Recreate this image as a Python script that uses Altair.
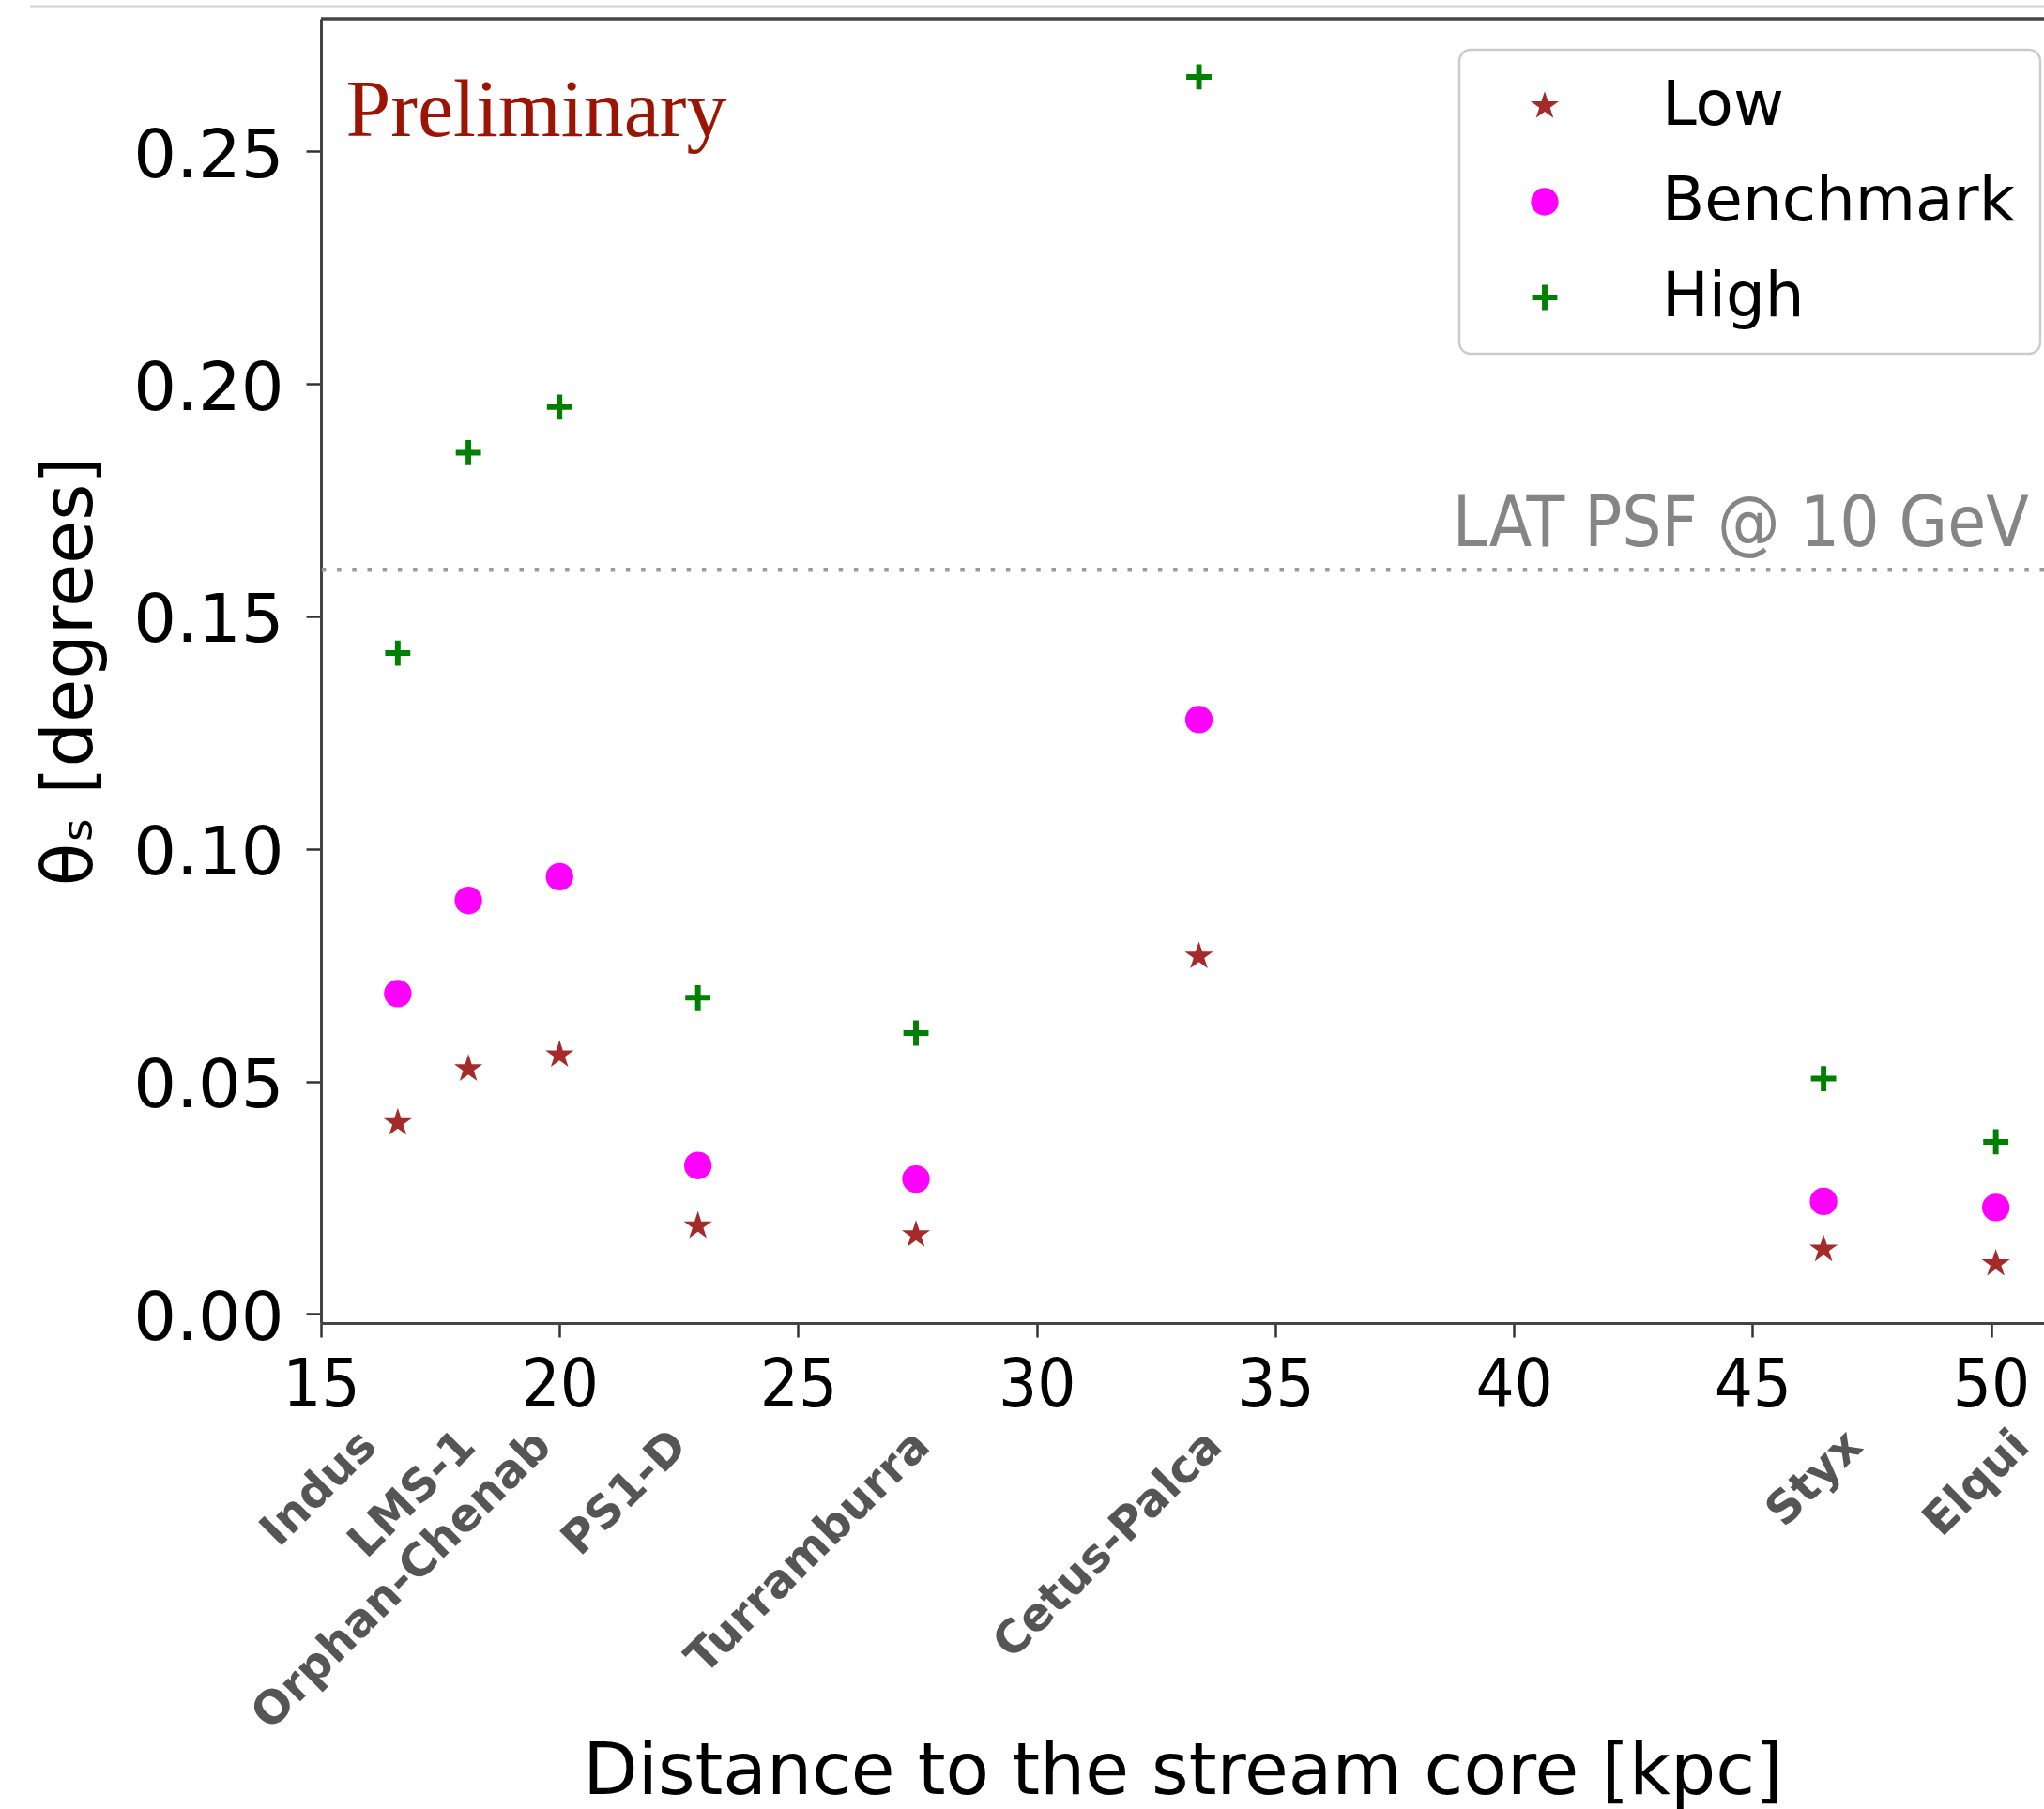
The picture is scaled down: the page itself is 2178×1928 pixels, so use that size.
import altair as alt
import pandas as pd

# ---------------- data ----------------
streams = ["Indus", "LMS-1", "Orphan-Chenab", "PS1-D", "Turramburra",
           "Cetus-Palca", "Styx", "Elqui"]
distance_kpc = [16.61, 18.09, 20.00, 22.90, 27.47, 33.40, 46.49, 50.10]
theta_low = [0.0411, 0.0527, 0.0557, 0.0189, 0.0170, 0.0769, 0.0139, 0.0108]
theta_benchmark = [0.0689, 0.0889, 0.0940, 0.0319, 0.0290, 0.1278, 0.0242, 0.0229]
theta_high = [0.1421, 0.1852, 0.1950, 0.0680, 0.0604, 0.2660, 0.0506, 0.0370]
# where each rotated stream name ends (kpc), as placed in the figure
label_x = [16.00, 18.08, 19.66, 22.51, 27.60, 33.72, 47.14, 50.64]
scenarios = ["Low", "Benchmark", "High"]
x_ticks = [15, 20, 25, 30, 35, 40, 45, 50]
y_ticks = [0.00, 0.05, 0.10, 0.15, 0.20, 0.25]
psf_10gev = 0.16
psf_label = "LAT PSF @ 10 GeV"
x_domain = [15, 51.11]
y_domain = [-0.00195, 0.2785]

# ---------------- layout ----------------
W, H = 1836, 1390
PAD = {"left": 342, "top": 20, "right": 0, "bottom": 518}

rows = []
for s, d, lo, be, hi in zip(streams, distance_kpc, theta_low, theta_benchmark, theta_high):
    rows.append({"stream": s, "distance": d, "scenario": "Low", "theta": lo})
    rows.append({"stream": s, "distance": d, "scenario": "Benchmark", "theta": be})
    rows.append({"stream": s, "distance": d, "scenario": "High", "theta": hi})
df = pd.DataFrame(rows)
labels_df = pd.DataFrame({"stream": streams, "distance": label_x})

STAR = ("M0,-1L0.2245,-0.309L0.9511,-0.309L0.3633,0.118L0.5878,0.809L0,0.382"
        "L-0.5878,0.809L-0.3633,0.118L-0.9511,-0.309L-0.2245,-0.309Z")
PLUS = "M-1,-0.22H-0.22V-1H0.22V-0.22H1V0.22H0.22V1H-0.22V0.22H-1Z"

xscale = alt.Scale(domain=x_domain, nice=False, zero=False)
yscale = alt.Scale(domain=y_domain, nice=False, zero=False)

leg = alt.Legend(
    title=None, orient="none", legendX=1213, legendY=33,
    labelFontSize=66, labelFont="DejaVu Sans", labelColor="black",
    labelLimit=2000, symbolOffset=31, labelOffset=92, symbolOpacity=1,
    symbolStrokeWidth=0,
)

points = alt.Chart(df).mark_point(filled=True, opacity=1, strokeWidth=0).encode(
    x=alt.X("distance:Q", scale=xscale, axis=alt.Axis(
        values=x_ticks, format="d", grid=False,
        title="Distance to the stream core [kpc]",
        labelFont="DejaVu Sans Condensed, DejaVu Sans", labelFontSize=72,
        labelColor="black", labelPadding=16, labelFlush=False,
        tickSize=15, tickWidth=2.5, tickColor="#333333",
        domainColor="#444444", domainWidth=3,
        titleFont="DejaVu Sans", titleFontSize=76, titleFontWeight="normal",
        titleColor="black", titleBaseline="alphabetic", titleY=501,
    )),
    y=alt.Y("theta:Q", scale=yscale, axis=alt.Axis(
        values=y_ticks, format=".2f", grid=False,
        title="θₛ [degrees]",
        labelFont="DejaVu Sans", labelFontSize=72, labelColor="black",
        labelPadding=24, labelOffset=5, labelFlush=False,
        tickSize=16, tickWidth=2.5, tickColor="#333333",
        domainColor="#444444", domainWidth=3,
        titleFont="DejaVu Sans", titleFontSize=75, titleFontWeight="normal",
        titleColor="black", titleBaseline="alphabetic", titleAngle=270,
        titleX=-245, titleY=695,
    )),
    color=alt.Color("scenario:N", scale=alt.Scale(
        domain=scenarios, range=["#a52a2a", "#ff00ff", "#008000"]), legend=leg),
    shape=alt.Shape("scenario:N", scale=alt.Scale(
        domain=scenarios, range=[STAR, "circle", PLUS]), legend=leg),
    size=alt.Size("scenario:N", scale=alt.Scale(
        domain=scenarios, range=[1000, 720, 760]), legend=leg),
)

top_border = alt.Chart().mark_rule(color="#444444", strokeWidth=3.5).encode(
    x=alt.value(0), x2=alt.value(W), y=alt.value(0))

screen_line = alt.Chart().mark_rule(color="#d4d4d4", strokeWidth=2).encode(
    x=alt.value(-310), x2=alt.value(W), y=alt.value(-13.5))

psf_rule = alt.Chart().mark_rule(
    color="#9a9a9a", strokeWidth=4.5, strokeDash=[4.5, 11.7]
).encode(y=alt.datum(psf_10gev))

psf_text = alt.Chart().mark_text(
    text=psf_label, align="right", baseline="alphabetic", dy=-25,
    font="DejaVu Sans Condensed, DejaVu Sans", fontSize=74, color="#858585",
).encode(x=alt.datum(50.79), y=alt.datum(psf_10gev))

prelim = alt.Chart().mark_text(
    text="Preliminary", align="left", baseline="alphabetic",
    font="Liberation Serif", fontSize=86, color="#9b1404",
).encode(x=alt.datum(15.52), y=alt.datum(0.2532))

names = alt.Chart(labels_df).mark_text(
    align="right", baseline="middle", angle=315,
    font="DejaVu Sans", fontWeight="bold", fontSize=48.5, color="#555555",
).encode(x=alt.X("distance:Q"), y=alt.value(H + 123), text="stream:N")

chart = alt.layer(
    screen_line, psf_rule, psf_text, top_border, points, names, prelim
).properties(
    width=W, height=H,
    autosize=alt.AutoSizeParams(type="none"),
    padding=PAD,
    background="white",
).configure_view(stroke=None).configure_legend(
    fillColor="white", strokeColor="#cccccc", strokeWidth=2.5,
    cornerRadius=12, padding=27, rowPadding=36,
)

chart.save("out.html", embed_options={"renderer": "svg", "actions": False})
